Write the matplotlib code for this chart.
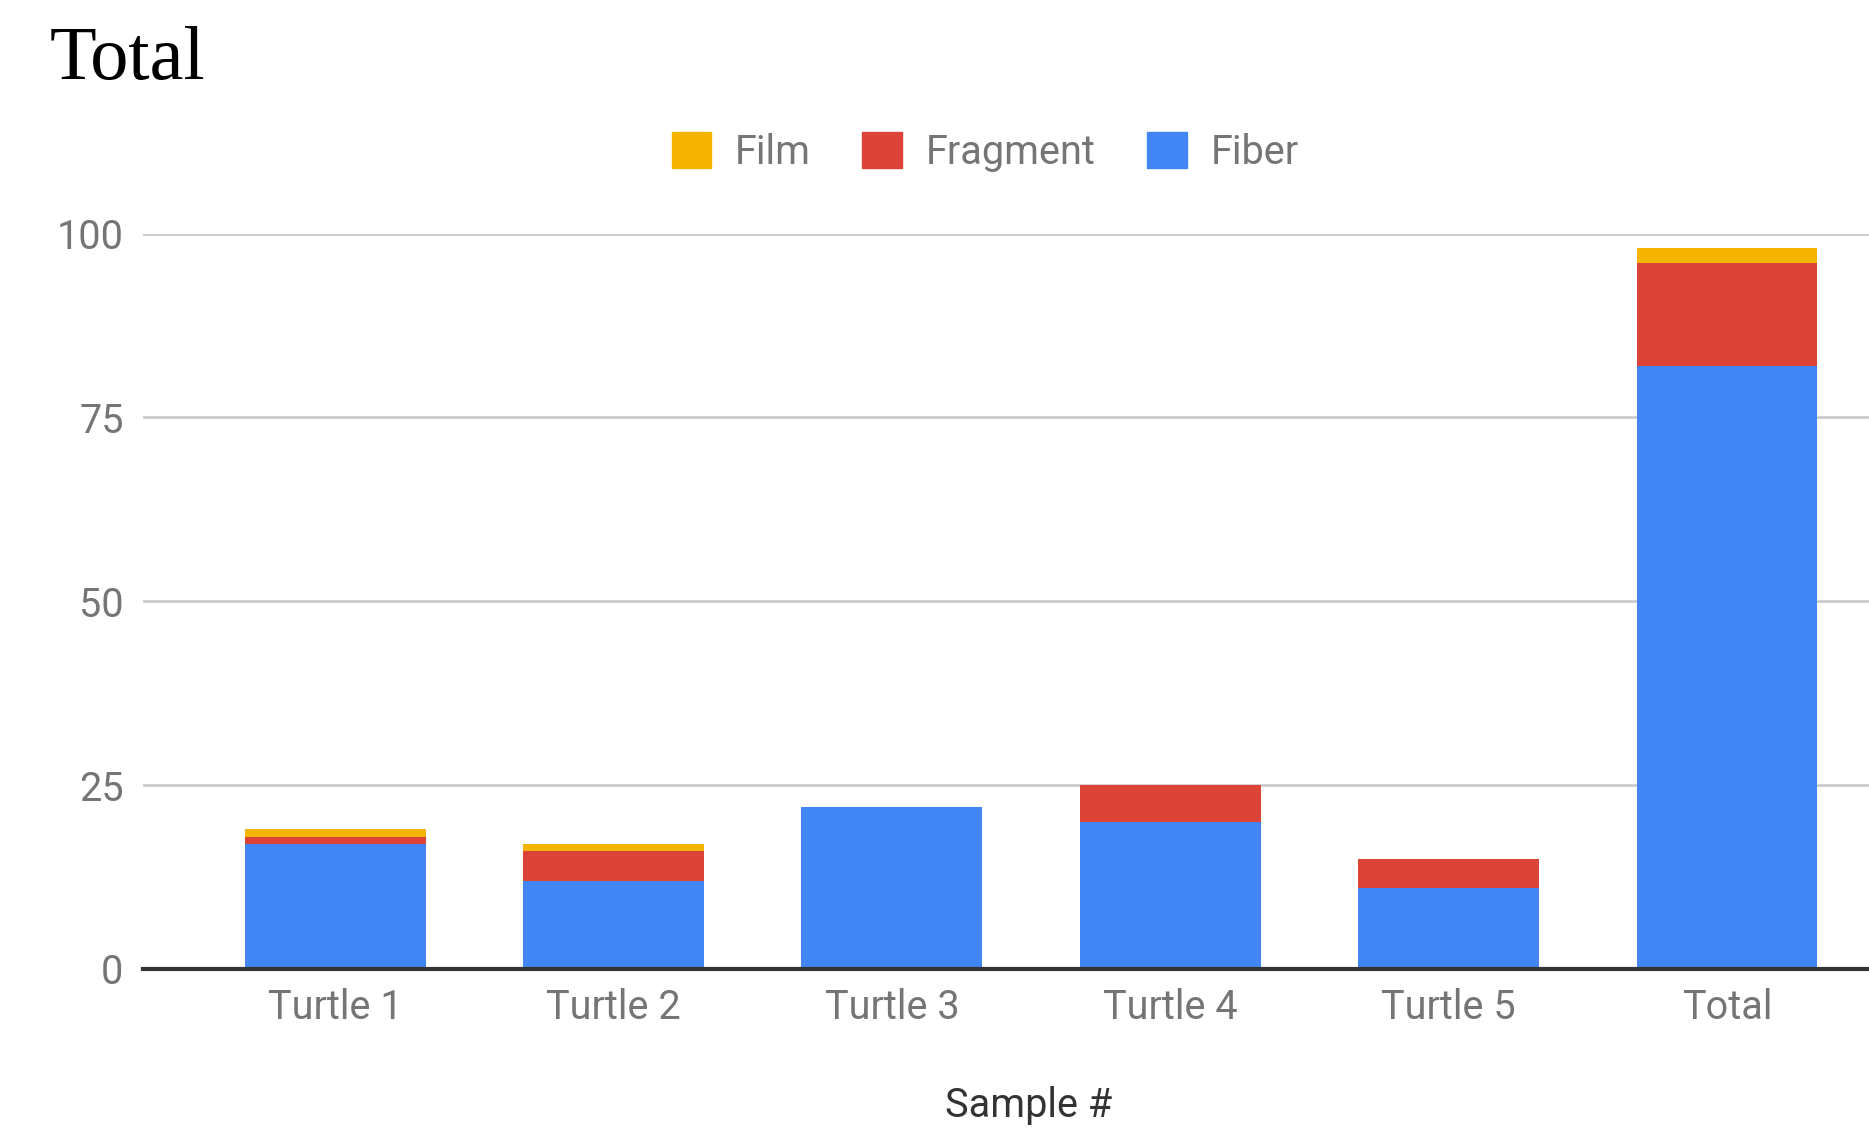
"""Stacked bar chart: microplastic types per turtle sample."""

import matplotlib
matplotlib.use("Agg")
import matplotlib.pyplot as plt
from matplotlib.patches import Patch
import numpy as np


# ---------------------------------------------------------------------------
# Data
# ---------------------------------------------------------------------------

samples  = ["Turtle 1", "Turtle 2", "Turtle 3", "Turtle 4", "Turtle 5", "Total"]
fiber    = [17, 12, 22, 20, 11, 82]
fragment = [1, 4, 0, 5, 4, 14]
film     = [1, 1, 0, 0, 0, 2]
y_ticks  = [0, 25, 50, 75, 100]

C_FIBER    = "#4285F4"
C_FRAGMENT = "#DB4437"
C_FILM     = "#F4B400"
C_TEXT     = "#757575"
FS = 28.5

plt.rcParams["font.family"] = ["Roboto", "DejaVu Sans"]

W, H = 1869, 1133
fig = plt.figure(figsize=(W / 100, H / 100), dpi=100)
ax = fig.add_axes([143 / W, 1 - 969 / H, 1 - 143 / W, (969 - 233.6) / H])

x = np.arange(len(samples))
fiber_a = np.array(fiber)
frag_a = np.array(fragment)
film_a = np.array(film)
width = 0.65

ax.bar(x, fiber_a, width, color=C_FIBER, zorder=3)
ax.bar(x, frag_a, width, bottom=fiber_a, color=C_FRAGMENT, zorder=3)
ax.bar(x, film_a, width, bottom=fiber_a + frag_a, color=C_FILM, zorder=3)

ax.set_xlim(-0.69, 5.51)
ax.set_ylim(0, 100)
ax.set_yticks(y_ticks)
ax.set_yticklabels([str(v) for v in y_ticks])
ax.set_xticks(x)
ax.set_xticklabels(samples)

ax.tick_params(axis="both", length=0, labelsize=FS, labelcolor=C_TEXT)
ax.tick_params(axis="y", pad=14)
ax.tick_params(axis="x", pad=14)

ax.grid(axis="y", color="#cccccc", linewidth=2, zorder=0)
for s in ["top", "right", "left"]:
    ax.spines[s].set_visible(False)
ax.spines["bottom"].set_color("#333333")
ax.spines["bottom"].set_linewidth(3)
ax.spines["bottom"].set_zorder(4)

ax.set_xlabel("Sample #", fontsize=FS, color="#333333", labelpad=42, x=0.513)

fig.text(50 / W, 1 - 79 / H, "Total", fontsize=55, color="black",
         family=["Liberation Serif", "DejaVu Serif"], ha="left", va="baseline")

handles = [Patch(color=C_FILM, label="Film"),
           Patch(color=C_FRAGMENT, label="Fragment"),
           Patch(color=C_FIBER, label="Fiber")]
leg = fig.legend(handles=handles, loc="center", bbox_to_anchor=(985 / W, 1 - 152 / H),
                 ncol=3, frameon=False, fontsize=FS, handlelength=1.0,
                 handleheight=1.0, handletextpad=0.6, columnspacing=1.3)
for t in leg.get_texts():
    t.set_color(C_TEXT)

fig.savefig("out.png", dpi=100, facecolor="white")
